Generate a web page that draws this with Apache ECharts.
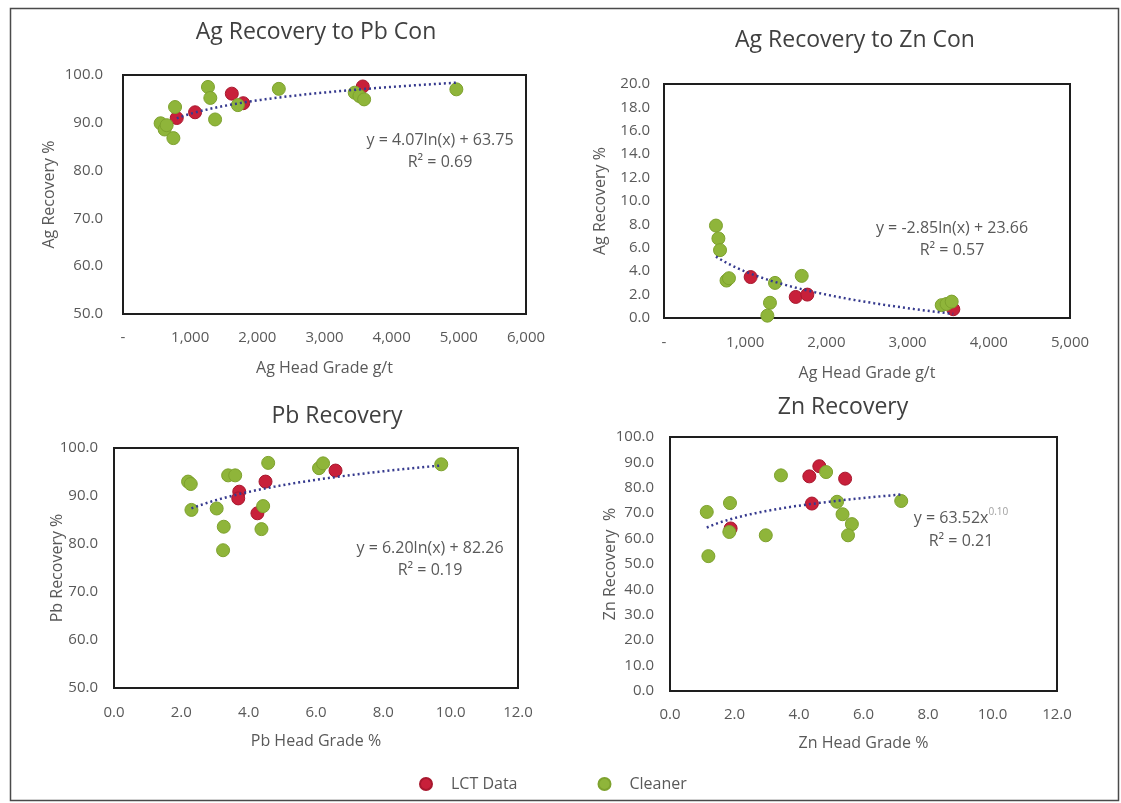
<!DOCTYPE html>
<html>
<head>
<meta charset="utf-8">
<title>Recovery vs Head Grade</title>
<script src="https://cdn.jsdelivr.net/npm/echarts@6/dist/echarts.min.js"></script>
<style>
  html, body { margin: 0; padding: 0; background: #fff; }
  #chart { width: 1121px; height: 803px; }
</style>
</head>
<body>
<div id="chart"></div>
<script>
// Ag recovery to Pb concentrate: [head grade g/t, recovery %]
const agPbLct = [[800, 91.0], [1073, 92.2], [1620, 96.1], [1790, 94.1], [3570, 97.6]];
const agPbCleaner = [[560, 89.9], [620, 88.6], [650, 89.5], [750, 86.8], [775, 93.3], [1265, 97.5], [1300, 95.2], [1371, 90.7], [1710, 93.7], [2320, 97.1], [3450, 96.3], [3520, 95.6], [3590, 94.9], [4963, 97.0]];

// Ag recovery to Zn concentrate
const agZnLct = [[1067, 3.5], [1622, 1.8], [1765, 2.0], [3563, 0.75]];
const agZnCleaner = [[640, 7.9], [670, 6.8], [690, 5.8], [770, 3.2], [800, 3.4], [1273, 0.2], [1305, 1.3], [1367, 3.0], [1696, 3.6], [3420, 1.1], [3480, 1.2], [3543, 1.4]];

// Pb recovery: [Pb head grade %, recovery %]
const pbLct = [[3.72, 90.9], [3.69, 89.5], [4.5, 93.0], [4.26, 86.4], [6.58, 95.3]];
const pbCleaner = [[2.2, 93.0], [2.28, 92.5], [2.3, 87.1], [3.05, 87.4], [3.26, 83.6], [3.24, 78.7], [3.39, 94.3], [3.6, 94.3], [4.58, 96.9], [4.43, 87.9], [4.38, 83.1], [6.09, 95.8], [6.21, 96.8], [9.72, 96.6]];

// Zn recovery: [Zn head grade %, recovery %]
const znLct = [[1.88, 64.0], [4.32, 84.5], [4.63, 88.5], [4.4, 73.8], [5.43, 83.6]];
const znCleaner = [[1.14, 70.5], [1.19, 53.1], [1.86, 74.0], [1.84, 62.6], [2.97, 61.3], [3.44, 84.9], [4.84, 86.2], [5.18, 74.5], [5.35, 69.6], [5.64, 65.7], [5.52, 61.3], [7.17, 74.8]];

// Fitted trendlines: coefficients and x span
const agPbFit = [4.07, 63.75];      // y = a ln(x) + b
const agZnFit = [-2.85, 23.66];     // y = a ln(x) + b
const pbFit = [6.20, 82.26];        // y = a ln(x) + b
const znFit = [63.52, 0.10];        // y = a x^b
const agPbSpan = [800, 4963];
const agZnSpan = [640, 3563];
const pbSpan = [2.3, 9.72];
const znSpan = [1.14, 7.17];
const rSquared = ['0.69', '0.57', '0.19', '0.21'];

const titles = ['Ag Recovery to Pb Con', 'Ag Recovery to Zn Con', 'Pb Recovery', 'Zn Recovery'];
const xNames = ['Ag Head Grade g/t', 'Ag Head Grade g/t', 'Pb Head Grade %', 'Zn Head Grade %'];
const yNames = ['Ag Recovery %', 'Ag Recovery %', 'Pb Recovery %', 'Zn Recovery  %'];
const seriesNames = ['LCT Data', 'Cleaner'];

function logCurve(fit, span) {
  const pts = [];
  const n = 60;
  for (let i = 0; i <= n; i++) {
    const x = span[0] + (span[1] - span[0]) * i / n;
    pts.push([x, fit[0] * Math.log(x) + fit[1]]);
  }
  return pts;
}
function powCurve(fit, span) {
  const pts = [];
  const n = 60;
  for (let i = 0; i <= n; i++) {
    const x = span[0] + (span[1] - span[0]) * i / n;
    pts.push([x, fit[0] * Math.pow(x, fit[1])]);
  }
  return pts;
}

const FONT = '"Open Sans", "Liberation Sans", sans-serif';
const GREY = '#595959';
const RED = '#c8203a';
const GREEN = '#8fb53a';
const TREND = '#363a8e';

const grids = [
  { left: 123, top: 75, width: 403, height: 239 },
  { left: 664, top: 84, width: 406, height: 234 },
  { left: 114, top: 448, width: 404, height: 240 },
  { left: 670, top: 437, width: 387, height: 254 }
].map(g => Object.assign(g, { show: true, borderColor: '#1e1e1e', borderWidth: 2, containLabel: false }));

const thousands = v => v === 0 ? '-' : v.toLocaleString('en-US');
const oneDec = v => v.toFixed(1);

const xCfg = [
  { min: 0, max: 6000, interval: 1000, fmt: thousands, margin: 16, gap: 46 },
  { min: 0, max: 5000, interval: 1000, fmt: thousands, margin: 17, gap: 47 },
  { min: 0, max: 12, interval: 2, fmt: oneDec, margin: 17, gap: 45 },
  { min: 0, max: 12, interval: 2, fmt: oneDec, margin: 16, gap: 44 }
];
const yCfg = [
  { min: 50, max: 100, interval: 10, margin: 20, gap: 66 },
  { min: 0, max: 20, interval: 2, margin: 14, gap: 56 },
  { min: 50, max: 100, interval: 10, margin: 16, gap: 49 },
  { min: 0, max: 100, interval: 10, margin: 16, gap: 52 }
];

const xAxis = xCfg.map((c, i) => ({
  type: 'value', gridIndex: i, min: c.min, max: c.max, interval: c.interval,
  axisLine: { show: false }, axisTick: { show: false }, splitLine: { show: false },
  axisLabel: { formatter: c.fmt, color: GREY, fontSize: 15, fontFamily: FONT, margin: c.margin },
  name: xNames[i], nameLocation: 'middle', nameGap: c.gap, nameMoveOverlap: false,
  nameTextStyle: { color: GREY, fontSize: 16, fontFamily: FONT }
}));
const yAxis = yCfg.map((c, i) => ({
  type: 'value', gridIndex: i, min: c.min, max: c.max, interval: c.interval,
  axisLine: { show: false }, axisTick: { show: false }, splitLine: { show: false },
  axisLabel: { formatter: oneDec, color: GREY, fontSize: 15, fontFamily: FONT, margin: c.margin },
  name: yNames[i], nameLocation: 'middle', nameGap: c.gap, nameRotate: 90, nameMoveOverlap: false,
  nameTextStyle: { color: GREY, fontSize: 16, fontFamily: FONT }
}));

const scatterSets = [[agPbLct, agPbCleaner], [agZnLct, agZnCleaner], [pbLct, pbCleaner], [znLct, znCleaner]];
const trends = [logCurve(agPbFit, agPbSpan), logCurve(agZnFit, agZnSpan), logCurve(pbFit, pbSpan), powCurve(znFit, znSpan)];

const series = [];
scatterSets.forEach((pair, i) => {
  series.push({
    name: seriesNames[0], type: 'scatter', xAxisIndex: i, yAxisIndex: i,
    data: pair[0], symbolSize: 13, z: 3,
    itemStyle: { color: RED, borderColor: '#a8182e', borderWidth: 1, opacity: 1 }
  });
  series.push({
    name: seriesNames[1], type: 'scatter', xAxisIndex: i, yAxisIndex: i,
    data: pair[1], symbolSize: 13, z: 4,
    itemStyle: { color: GREEN, borderColor: '#7ea22e', borderWidth: 1, opacity: 1 }
  });
  series.push({
    name: 'Trend ' + (i + 1), type: 'line', xAxisIndex: i, yAxisIndex: i,
    data: trends[i], showSymbol: false, smooth: false, z: 5, silent: true,
    lineStyle: { color: TREND, width: 2.5, type: [2, 3] }
  });
});

const titleStyle = { color: '#404040', fontSize: 23, fontFamily: FONT, fontWeight: 'normal' };
const eqStyle = { color: GREY, fontSize: 16, fontFamily: FONT, fontWeight: 'normal', lineHeight: 22, align: 'center' };

const titleList = [
  { text: titles[0], left: 316, top: 21 },
  { text: titles[1], left: 855, top: 29 },
  { text: titles[2], left: 337, top: 405 },
  { text: titles[3], left: 843, top: 396 }
].map(t => Object.assign(t, { textAlign: 'center', padding: 0, textStyle: titleStyle }));

const eqText = fit => 'y = ' + fit[0].toFixed(2) + 'ln(x) + ' + fit[1].toFixed(2);
const equations = [
  { text: eqText(agPbFit) + '\nR² = ' + rSquared[0], left: 440, top: 129 },
  { text: eqText(agZnFit) + '\nR² = ' + rSquared[1], left: 952, top: 217 },
  { text: eqText(pbFit) + '\nR² = ' + rSquared[2], left: 430, top: 537 },
  {
    text: '{b|y = ' + znFit[0].toFixed(2) + 'x}{s|' + znFit[1].toFixed(2) + '}\n{b|R² = ' + rSquared[3] + '}',
    left: 961, top: 507, rich: true
  }
].map(t => {
  const style = Object.assign({}, eqStyle);
  if (t.rich) {
    style.rich = {
      b: { color: GREY, fontSize: 16, fontFamily: FONT, lineHeight: 23 },
      s: { color: '#a0a0a0', fontSize: 10, fontFamily: FONT, lineHeight: 23, verticalAlign: 'top', padding: [0, 0, 8, 0] }
    };
  }
  return { text: t.text, left: t.left, top: t.top, textAlign: 'center', padding: 0, textStyle: style };
});

const chart = echarts.init(document.getElementById('chart'), null, { renderer: 'canvas' });
chart.setOption({
  backgroundColor: '#fff',
  animation: false,
  title: titleList.concat(equations),
  legend: {
    data: seriesNames, left: 414, top: 771, icon: 'circle', itemWidth: 12, itemHeight: 12, itemGap: 80,
    textStyle: { color: GREY, fontSize: 16, fontFamily: FONT, padding: [0, 0, 0, 14] },
    selectedMode: false
  },
  grid: grids,
  xAxis: xAxis,
  yAxis: yAxis,
  series: series,
  graphic: [{
    type: 'rect', left: 8, top: 6, silent: true, z: -1,
    shape: { width: 1108, height: 792 },
    style: { fill: 'none', stroke: '#4a4a4a', lineWidth: 1.5 }
  }]
});
</script>
</body>
</html>
